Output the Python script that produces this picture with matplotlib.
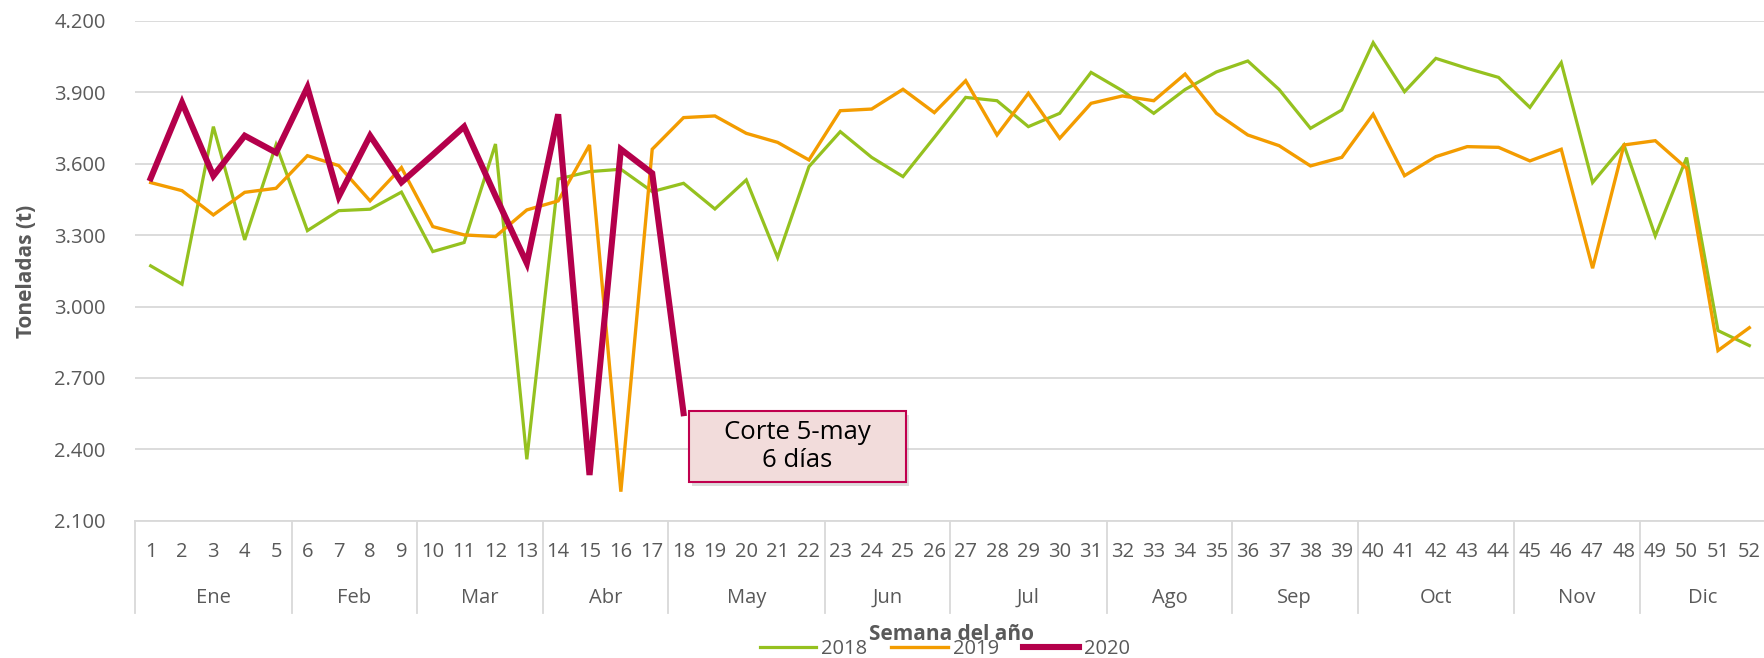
import matplotlib
matplotlib.use("Agg")
import matplotlib.pyplot as plt
from matplotlib.patches import Rectangle
from matplotlib.lines import Line2D

plt.rcParams["font.family"] = ["Open Sans", "DejaVu Sans"]

# =========================================================
# Data (toneladas por semana)
# =========================================================
weeks = list(range(1, 53))
months = ["Ene", "Feb", "Mar", "Abr", "May", "Jun", "Jul", "Ago", "Sep", "Oct", "Nov", "Dic"]
month_last_week = [5, 9, 13, 17, 22, 26, 31, 35, 39, 44, 48, 52]

t2018 = [3171, 3094, 3756, 3280, 3680, 3319, 3403, 3409, 3481, 3231,
         3269, 3683, 2358, 3536, 3567, 3577, 3483, 3518, 3410, 3532,
         3206, 3588, 3735, 3627, 3546, 3711, 3879, 3865, 3756, 3812,
         3984, 3907, 3812, 3912, 3986, 4032, 3912, 3749, 3826, 4109,
         3903, 4043, 4001, 3963, 3837, 4025, 3521, 3679, 3297, 3626,
         2899, 2836]
t2019 = [3521, 3487, 3385, 3480, 3497, 3634, 3592, 3444, 3584, 3336,
         3301, 3294, 3406, 3444, 3679, 2222, 3661, 3794, 3801, 3728,
         3690, 3616, 3823, 3830, 3913, 3815, 3949, 3721, 3896, 3707,
         3854, 3885, 3865, 3977, 3812, 3721, 3676, 3591, 3627, 3808,
         3550, 3630, 3672, 3669, 3612, 3661, 3161, 3679, 3697, 3581,
         2815, 2911]
t2020 = [3539, 3857, 3549, 3718, 3647, 3921, 3462, 3718, 3522, 3638,
         3756, 3465, 3182, 3808, 2292, 3661, 3560, 2552]

series = [("2018", t2018, "#95C11F", 2.3),
          ("2019", t2019, "#F39C00", 2.4),
          ("2020", t2020, "#B4004B", 4.4)]

y_ticks = list(range(2100, 4201, 300))
annot_text = "Corte 5-may\n6 días"

GREY = "#595959"
GRID = "#D9D9D9"
W, H = 1765, 658

# =========================================================
# Figure / axes (pixel layout of the original)
# =========================================================
fig = plt.figure(figsize=(W / 100, H / 100), dpi=100)
ax_left, ax_right, ax_top, ax_bottom = 135, 1765, 21, 520.7
ax = fig.add_axes([ax_left / W, 1 - ax_bottom / H,
                   (ax_right - ax_left) / W, (ax_bottom - ax_top) / H])

for name, vals, color, lw in series:
    ax.plot(weeks[:len(vals)], vals, color=color, lw=lw, label=name,
            solid_joinstyle="miter", zorder=3)

ax.set_xlim(0.5, 52.5)
ax.set_ylim(2100, 4200)
ax.set_yticks(y_ticks)
ax.set_yticklabels([f"{v:,}".replace(",", ".") for v in y_ticks])
ax.set_xticks([])
ax.tick_params(axis="y", length=0, pad=21, labelsize=14.5, labelcolor=GREY)
ax.yaxis.grid(True, color=GRID, lw=1.3)
ax.set_axisbelow(True)
for s in ["top", "right", "left"]:
    ax.spines[s].set_visible(False)
ax.spines["bottom"].set_color(GRID)
ax.spines["bottom"].set_linewidth(1.3)

# =========================================================
# Two-level category axis (week / month)
# =========================================================
axh = ax_bottom - ax_top
trans = ax.get_xaxis_transform()
for w in weeks:
    ax.text(w, -31 / axh, str(w), transform=trans, ha="center", va="center",
            fontsize=14.5, color=GREY)

first = 1
for m, last in zip(months, month_last_week):
    ax.text((first + last) / 2, -77.5 / axh, m, transform=trans, ha="center",
            va="center", fontsize=14.5, color=GREY)
    first = last + 1

for b in [0] + month_last_week:
    ax.plot([b + 0.5, b + 0.5], [0, -92.3 / axh], transform=trans,
            color=GRID, lw=1.3, clip_on=False)

# axis titles
fig.text(27 / W, 1 - 271 / H, "Toneladas (t)", rotation=90, ha="center",
         va="center", fontsize=15, fontweight="bold", color=GREY)
fig.text(952 / W, 1 - 635 / H, "Semana del año", ha="center", va="center",
         fontsize=15, fontweight="bold", color=GREY)

# legend
handles = [Line2D([], [], color=c, lw=lw) for _, _, c, lw in series]
leg = fig.legend(handles, [s[0] for s in series], loc="center",
                 bbox_to_anchor=(945 / W, 1 - 649 / H), ncol=3, frameon=False,
                 fontsize=14.5, handlelength=2.8, handletextpad=0.25,
                 columnspacing=1.2)
for t in leg.get_texts():
    t.set_color(GREY)

# =========================================================
# Annotation box
# =========================================================
bx0, bx1, by0, by1 = 689, 906, 410.7, 482.3
shadow = Rectangle((bx0 / W + 3 / W, 1 - by1 / H - 4 / H), (bx1 - bx0) / W,
                   (by1 - by0) / H, transform=fig.transFigure,
                   facecolor="#A0A0A0", edgecolor="none", alpha=0.35, zorder=4)
box = Rectangle((bx0 / W, 1 - by1 / H), (bx1 - bx0) / W, (by1 - by0) / H,
                transform=fig.transFigure, facecolor="#F2DCDB",
                edgecolor="#C0004E", lw=1.5, zorder=5)
fig.add_artist(shadow)
fig.add_artist(box)
fig.text((bx0 + bx1) / 2 / W, 1 - (by0 + by1) / 2 / H, annot_text,
         ha="center", va="center", fontsize=18.5, color="black",
         linespacing=1.15, zorder=6)

fig.savefig("out.png", dpi=100)
